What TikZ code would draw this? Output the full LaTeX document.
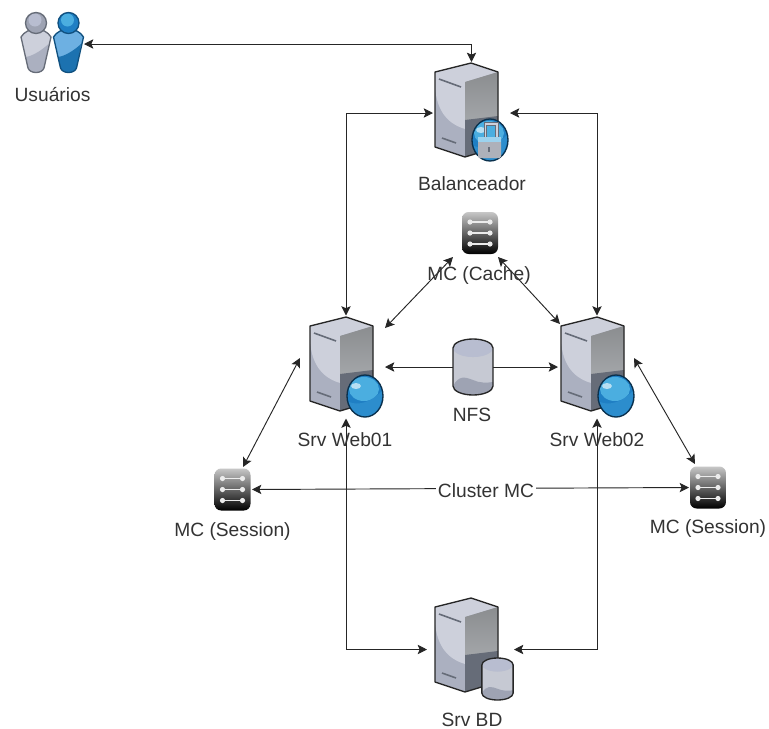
\documentclass[tikz,border=0pt]{standalone}
\usepackage{fontspec}
\setmainfont{Liberation Sans}
\usetikzlibrary{arrows.meta}
\definecolor{ink}{HTML}{262626}
\definecolor{lab}{HTML}{333333}
\definecolor{srvlight}{HTML}{CDD0DB}
\definecolor{srvmid}{HTML}{ABB0C0}
\definecolor{srvface}{HTML}{A3A6A9}
\definecolor{srvdark}{HTML}{666C78}
\definecolor{blue1}{HTML}{1F7FC4}
\definecolor{blue2}{HTML}{4BAEE0}
\definecolor{blue3}{HTML}{10507F}
\definecolor{usrblue}{HTML}{6DB0E2}
\definecolor{cyl1}{HTML}{B8BDD0}
\definecolor{cyl2}{HTML}{C6C9D3}
\definecolor{cyl3}{HTML}{9EA3B3}
\tikzset{
  x=0.75pt,y=-0.75pt,
  label text/.style={font=\fontsize{14.4pt}{16pt}\selectfont,text=lab,inner sep=0pt},
  link/.style={draw=ink,line width=0.7pt,{Stealth[length=7pt,width=7pt,inset=1.5pt]}-{Stealth[length=7pt,width=7pt,inset=1.5pt]}},
  oneway/.style={draw=ink,line width=0.7pt,-{Stealth[length=7pt,width=7pt,inset=1.5pt]}},
  slot/.style={inner sep=0pt,outer sep=0pt},
  outline/.style={draw=ink,line width=1pt,line join=round},
  server/.pic={
    \fill[srvmid] (0,9) -- (36,0) -- (63,9) -- (63,84) -- (30,94) -- (0,84) -- cycle;
    \fill[srvlight] (0,9) -- (36,0) -- (63,9) -- (30,19) -- (30,66) .. controls (10,60) and (2,45) .. (0,25) -- cycle;
    \shade[top color=srvface!85!black,bottom color=srvface] (30,19) -- (63,9) -- (63,54) -- (30,58) -- cycle;
    \fill[srvdark] (30,57) -- (63,53) -- (63,84) -- (30,94) -- cycle;
    \draw[outline] (0,9) -- (36,0) -- (63,9) -- (63,84) -- (30,94) -- (0,84) -- cycle;
    \draw[srvdark,line width=1.2pt] (4,16) -- (26,24);
    \draw[srvdark,line width=1.2pt] (7,75) -- (21,80);
  },
  globe/.pic={
    \fill[blue1] (0,0) ellipse[x radius=18,y radius=21];
    \fill[blue2] (-1,-7) ellipse[x radius=15,y radius=12];
    \fill[blue1!70!blue2] (-16,6) .. controls (-6,10) and (6,6) .. (17,-5) .. controls (18,10) and (10,20) .. (0,21) .. controls (-8,20) and (-14,14) .. (-16,6) -- cycle;
    \fill[blue2!40!white] (-9,-10) ellipse[x radius=5,y radius=3];
    \draw[blue3!60!black,line width=1pt] (0,0) ellipse[x radius=18,y radius=21];
  },
  cyl/.pic={
    \fill[cyl2] (-20,-19) -- (-20,19) arc[start angle=180,end angle=0,x radius=20,y radius=9] -- (20,-19) -- cycle;
    \fill[cyl1] (0,-19) ellipse[x radius=20,y radius=9];
    \fill[cyl1] (-20,-19) .. controls (-10,-7) and (10,-7) .. (20,-19) -- cycle;
    \fill[cyl3] (-20,19) .. controls (-14,8) and (-8,10) .. (0,13) .. controls (6,16) and (14,16) .. (20,15) -- (20,19) arc[start angle=0,end angle=180,x radius=20,y radius=9] -- cycle;
    \draw[outline] (-20,-19) -- (-20,19) arc[start angle=180,end angle=0,x radius=20,y radius=9] -- (20,-19) arc[start angle=0,end angle=-180,x radius=20,y radius=9];
  },
  mcicon/.pic={
    \shade[top color=black!22,middle color=black!62,bottom color=black,rounded corners=5pt] (-18,-21) rectangle (18,21);
    \foreach \yy in {-11,0,11}{
      \draw[white!85!gray,line width=1.2pt] (-10,\yy) -- (10,\yy);
      \fill[white!85!gray] (-10,\yy) circle[radius=2.6];
      \fill[white!85!gray] (10,\yy) circle[radius=2.6];
    }
  },
}
\newcommand{\personfig}[6]{% x, lower body, upper body, head, head highlight, outline
  \fill[#3] (#1-15,37) .. controls (#1-12,32) and (#1-6,29) .. (#1,29) .. controls (#1+6,29) and (#1+12,32) .. (#1+15,37) -- (#1+8,68) .. controls (#1+6,74) and (#1-6,74) .. (#1-8,68) -- cycle;
  \fill[#2] (#1-10.5,57) .. controls (#1-3,56) and (#1+6,50) .. (#1+12.5,44) -- (#1+8,68) .. controls (#1+6,74) and (#1-6,74) .. (#1-8,68) -- cycle;
  \draw[#6,line width=1pt,line join=round] (#1-15,37) .. controls (#1-12,32) and (#1-6,29) .. (#1,29) .. controls (#1+6,29) and (#1+12,32) .. (#1+15,37) -- (#1+8,68) .. controls (#1+6,74) and (#1-6,74) .. (#1-8,68) -- cycle;
  \fill[#4] (#1,23) circle[radius=10.5];
  \fill[#5] (#1-1,20) circle[radius=6.5];
  \draw[#6,line width=1pt] (#1,23) circle[radius=10.5];
}
\begin{document}
\begin{tikzpicture}
\useasboundingbox (0,0) rectangle (769,729);
\fill[white] (0,0) rectangle (769,729);

% icons
\personfig{36}{srvmid}{srvlight}{cyl3}{cyl1}{srvdark}
\personfig{68.5}{blue1!90!black}{usrblue}{blue1}{blue2}{blue3}
\pic at (435,63) {server};
\pic at (310,317) {server};
\pic at (561,317) {server};
\pic at (435,598) {server};
\pic at (365,396) {globe};
\pic at (616,396) {globe};
\pic at (490,140) {globe};
% padlock
\draw[srvdark,line width=2.8pt] (485.5,137) -- (485.5,124) -- (497,124) -- (497,137);
\draw[srvlight,line width=1.4pt] (485.5,137) -- (485.5,124) -- (497,124) -- (497,137);
\fill[srvlight!85!black,rounded corners=1pt] (478,137) rectangle (501,158);
\fill[blue2!55!white] (478,137) rectangle (501,142);
\draw[srvdark,line width=1pt] (489,147) -- (489,152);
\pic at (473,367) {cyl};
\pic at (497.5,679) [yscale=.75,xscale=.78] {cyl};
\pic at (480,233) {mcicon};
\pic at (232.5,489.5) {mcicon};
\pic at (708,487.5) {mcicon};

% anchor nodes
\node[slot,minimum width=52.5pt,minimum height=75pt] (users) at (49,46) {};
\node[slot,minimum width=57.75pt,minimum height=72pt] (bal) at (471.5,110) {};
\node[slot,minimum width=58.5pt,minimum height=77.25pt] (webA) at (346,367) {};
\node[slot,minimum width=58.5pt,minimum height=77.25pt] (webB) at (597,367) {};
\node[slot,minimum width=65.25pt,minimum height=76pt] (bd) at (470.5,649.5) {};
\node[slot,minimum width=30pt,minimum height=42pt] (nfs) at (473,367) {};
\node[slot,minimum width=33.75pt,minimum height=36pt] (cache) at (475.5,233) {};
\node[slot,minimum width=29.25pt,minimum height=33.75pt] (sessA) at (232.5,489.5) {};
\node[slot,minimum width=28.5pt,minimum height=35.25pt] (sessB) at (708,487.5) {};

% connectors
\draw[link] ([shift={(0,-2)}]users.east) coordinate (u) -- (u -| bal.north) -- (bal.north);
\draw[link] (bal.west |- 0,113) coordinate (bl) -- (bl -| webA.north) -- (webA.north);
\draw[link] (bal.east |- 0,113) coordinate (br) -- (br -| webB.north) -- (webB.north);
\draw[link] ([shift={(0,-39)}]webA.east) -- (cache.south west);
\draw[link] (cache.south east) -- ([shift={(2,-43)}]webB.west);
\draw[oneway] (nfs.west) -- (webA.east);
\draw[oneway] (nfs.east) -- (webB.west);
\draw[link] ([shift={(-7,-9)}]webA.west) -- ([shift={(10.5,0)}]sessA.north);
\draw[link] ([shift={(-2,-9)}]webB.east) -- ([shift={(-13,0)}]sessB.north);
\draw[link] (sessA.east) -- (sessB.west);
\draw[link] (webA.south) -- (webA.south |- bd.west) -- (bd.west);
\draw[link] (webB.south) -- (webB.south |- bd.east) -- (bd.east);

% labels
\node[label text] (lu) at (52.5,95) {Usuários};
\node[label text] (lb) at (472,184) {Balanceador};
\node[label text] (lc) at (479,276) {MC (Cache)};
\node[label text] (ln) at (472,415) {NFS};
\node[label text] (la) at (345,440) {Srv Web01};
\node[label text] (lw) at (597,440) {Srv Web02};
\node[label text,fill=white,inner xsep=1.5pt] (lm) at (486,491) {Cluster MC};
\node[label text] (ls) at (232.5,532) {MC (Session)};
\node[label text] (lr) at (708,529) {MC (Session)};
\node[label text] (ld) at (472,720) {Srv BD};
\end{tikzpicture}
\end{document}
